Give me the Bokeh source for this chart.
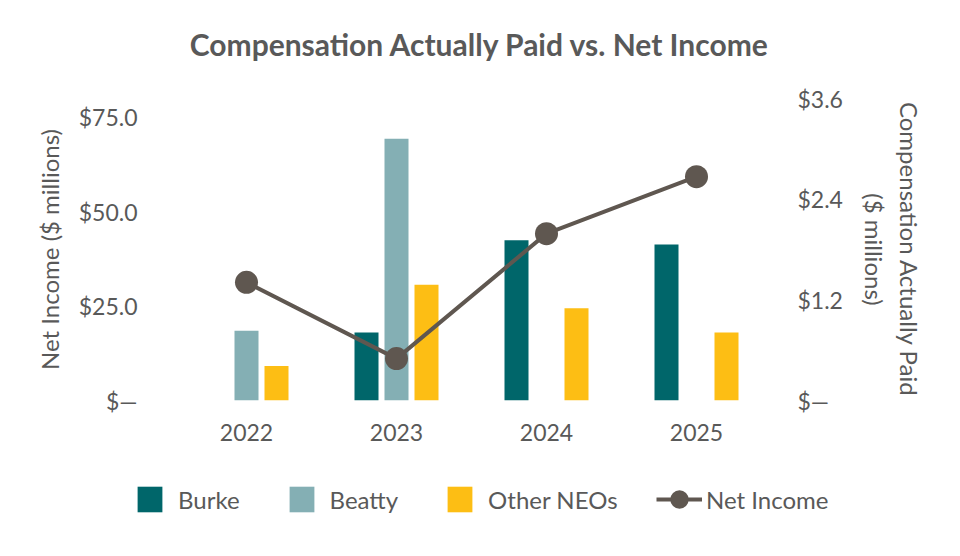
from bokeh.plotting import figure
from bokeh.layouts import column
from bokeh.models import (ColumnDataSource, FactorRange, Range1d, LinearAxis,
                          FixedTicker, Legend, LegendItem, Label)
from bokeh.transform import dodge
from bokeh.embed import file_html
from bokeh.resources import INLINE

# ---- data ----
years = ["2022", "2023", "2024", "2025"]
burke = [0.0, 0.81, 1.91, 1.86]          # $ millions (right axis)
beatty = [0.83, 3.12, 0.0, 0.0]          # $ millions (right axis)
other_neos = [0.41, 1.38, 1.10, 0.81]    # $ millions (right axis)
net_income = [31.3, 11.1, 44.2, 59.3]    # $ millions (left axis)

left_ticks = [0, 25, 50, 75]
left_tick_labels = ["$—", "$25.0", "$50.0", "$75.0"]
right_ticks = [0, 1.2, 2.4, 3.6]
right_tick_labels = ["$—", "$1.2", "$2.4", "$3.6"]

TITLE = "Compensation Actually Paid vs. Net Income"
TEXT = "#595959"
FONT = "Lato"
C_BURKE = "#00666A"
C_BEATTY = "#84AFB4"
C_OTHER = "#FDBE14"
C_NI = "#5F5750"

src = ColumnDataSource(dict(year=years, burke=burke, beatty=beatty,
                            other=other_neos, ni=net_income))

def bare(fig):
    fig.outline_line_color = None
    fig.grid.visible = False
    fig.background_fill_color = "white"
    fig.border_fill_color = "white"
    return fig

# ---- title strip ----
tf = bare(figure(width=944, height=70, min_border=0, x_axis_location=None,
                 y_axis_location=None, toolbar_location=None, output_backend="svg",
                 x_range=Range1d(0, 1), y_range=Range1d(0, 1), frame_align=False))
tf.add_layout(Label(x=479.5, y=27, x_units="screen", y_units="screen", text=TITLE,
                    text_align="center", text_baseline="alphabetic",
                    text_font=FONT, text_font_size="30px", text_font_style="bold",
                    text_color=TEXT))

# ---- main chart ----
p = bare(figure(x_range=FactorRange(*years, range_padding=0), y_range=Range1d(0, 80),
                width=944, height=400, output_backend="svg", toolbar_location=None,
                min_border_left=171, min_border_right=173, min_border_top=28,
                min_border_bottom=70, frame_align=False))
p.extra_y_ranges = {"cap": Range1d(0, 3.6)}

def style_axis(ax):
    ax.axis_line_color = None
    ax.major_tick_line_color = None
    ax.minor_tick_line_color = None
    ax.major_label_text_font = FONT
    ax.major_label_text_font_size = "23px"
    ax.major_label_text_color = TEXT
    ax.axis_label_text_font = FONT
    ax.axis_label_text_font_size = "24px"
    ax.axis_label_text_font_style = "normal"
    ax.axis_label_text_color = TEXT

la = p.yaxis[0]
style_axis(la)
la.ticker = FixedTicker(ticks=left_ticks)
la.major_label_overrides = dict(zip(left_ticks, left_tick_labels))
la.axis_label = "Net Income ($ millions)"
la.major_label_standoff = 28
la.axis_label_standoff = 12

ra = LinearAxis(y_range_name="cap", ticker=FixedTicker(ticks=right_ticks))
style_axis(ra)
ra.major_label_overrides = dict(zip(right_ticks, right_tick_labels))
ra.axis_label = "Compensation Actually Paid\n($ millions)"
ra.major_label_standoff = 20
ra.axis_label_standoff = 14
p.add_layout(ra, "right")

xa = p.xaxis[0]
style_axis(xa)
xa.major_label_standoff = 17

bar_specs = [("burke", -0.2, C_BURKE), ("beatty", 0.0, C_BEATTY), ("other", 0.2, C_OTHER)]
for col, off, c in bar_specs:
    p.vbar(x=dodge("year", off, range=p.x_range), top=col, width=0.16,
           source=src, y_range_name="cap", fill_color=c, line_color=None)

p.line(x="year", y="ni", source=src, line_color=C_NI, line_width=4)
p.scatter(x="year", y="ni", source=src, size=23, fill_color=C_NI, line_color=None)

# ---- legend strip (hidden proxy renderers carry the styles) ----
lf = bare(figure(width=944, height=70, min_border=0, x_axis_location=None,
                 y_axis_location=None, toolbar_location=None, output_backend="svg",
                 x_range=FactorRange(*years), y_range=Range1d(0, 1), frame_align=False))
proxies = {}
for col, off, c in bar_specs:
    proxies[col] = lf.vbar(x="year", top=col, width=0.16, source=src,
                           fill_color=c, line_color=None, visible=False)
pl = lf.line(x="year", y="ni", source=src, line_color=C_NI, line_width=4, visible=False)
ps = lf.scatter(x="year", y="ni", source=src, size=23, fill_color=C_NI,
                line_color=None, visible=False)

def make_legend(items, loc, gw, gh, standoff):
    return Legend(items=items, orientation="horizontal", location=loc,
                  glyph_width=gw, glyph_height=gh, label_standoff=standoff,
                  spacing=46, padding=0, margin=0, border_line_color=None,
                  background_fill_alpha=0, label_text_font=FONT,
                  label_text_font_size="24px", label_text_color=TEXT)

leg1 = make_legend([LegendItem(label="Burke", renderers=[proxies["burke"]]),
                    LegendItem(label="Beatty", renderers=[proxies["beatty"]]),
                    LegendItem(label="Other NEOs", renderers=[proxies["other"]])],
                   (134, 25), 31, 32, 13)
leg2 = make_legend([LegendItem(label="Net Income", renderers=[pl, ps])],
                   (656, 16), 46, 50, 4)
lf.add_layout(leg1)
lf.add_layout(leg2)

layout = column(tf, p, lf, spacing=0)
open("out.html", "w").write(file_html(layout, INLINE))
